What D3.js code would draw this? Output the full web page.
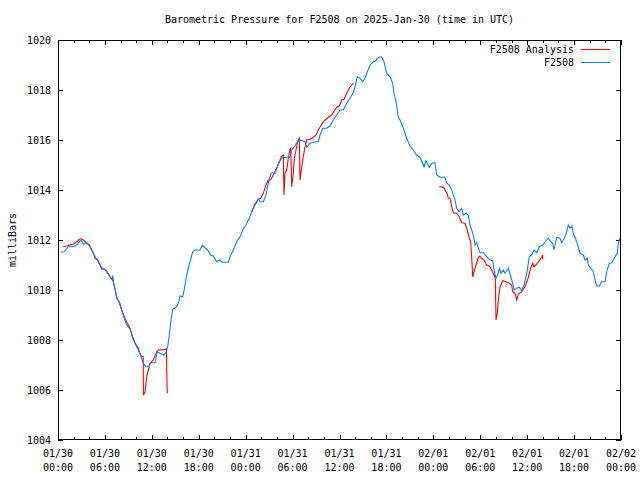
<!DOCTYPE html>
<html>
<head>
<meta charset="utf-8">
<script src="https://cdn.jsdelivr.net/npm/d3@7"></script>
<style>
  html, body { margin: 0; padding: 0; background: #fff; }
  svg text { font-family: "DejaVu Sans Mono", "Liberation Mono", monospace; font-size: 10px; fill: #000; }
</style>
</head>
<body>
<svg id="chart" width="640" height="480"></svg>
<script>
// ---- data (hours since 2025-01-30 00:00 UTC, pressure in milliBars) ----
const chartTitle = "Barometric Pressure for F2508 on 2025-Jan-30 (time in UTC)";
const yAxisLabel = "milliBars";
const seriesNames = ["F2508 Analysis", "F2508"];
const yTickValues = [1004, 1006, 1008, 1010, 1012, 1014, 1016, 1018, 1020];
const xTickHours = [0, 6, 12, 18, 24, 30, 36, 42, 48, 54, 60, 66, 72];

const stationHours = [0.35,0.77,1.32,1.96,2.39,2.94,3.24,3.67,4.09,4.51,5.15,5.59,6.01,6.43,6.87,7.0,7.16,7.51,7.93,8.27,8.70,8.99,9.21,9.55,9.85,10.27,10.70,10.91,11.25,11.55,11.89,12.41,12.70,13.04,13.47,13.81,14.03,14.23,14.45,14.67,15.09,15.39,15.60,15.95,16.15,16.46,16.88,17.23,17.52,18.16,18.45,18.80,19.22,19.53,19.86,20.30,20.63,21.01,21.78,22.0,22.42,22.85,23.28,23.62,24.04,24.46,24.77,25.10,25.62,25.83,26.26,26.60,26.89,27.24,27.46,27.75,27.97,28.30,28.61,29.03,29.67,29.89,30.31,30.60,30.95,31.59,31.81,32.23,32.87,33.29,33.51,33.85,34.36,34.79,35.21,35.64,36.06,36.49,36.92,37.34,37.76,37.98,38.28,38.62,38.97,39.26,39.56,39.90,40.32,40.67,40.83,41.18,41.40,41.69,42.04,42.46,42.80,42.97,43.23,43.52,43.74,44.16,44.59,45.02,45.44,45.87,46.30,46.64,46.81,47.06,47.48,47.79,48.21,48.43,48.85,49.49,49.71,50.04,50.35,50.55,50.77,50.99,51.32,51.63,51.83,52.18,52.47,52.69,52.91,53.11,53.33,53.54,53.75,53.97,54.39,54.83,55.25,55.59,55.76,56.01,56.23,56.44,56.65,56.95,57.17,57.59,57.90,58.15,58.32,58.66,59.0,59.30,59.60,59.85,60.02,60.27,60.58,60.87,61.22,61.55,61.99,62.41,62.70,62.92,63.27,63.44,63.78,64.20,64.42,64.75,65.06,65.26,65.48,65.70,65.90,66.25,66.54,66.76,67.18,67.40,67.69,67.82,68.13,68.46,68.68,68.90,69.23,69.53,69.96,70.17,70.50,70.81,71.02,71.23,71.53,71.66,71.87,72.0];
const stationPressure = [1011.51,1011.53,1011.73,1011.73,1011.8,1012.0,1011.84,1011.9,1011.73,1011.47,1011.13,1010.89,1010.8,1010.63,1010.43,1010.57,1010.2,1009.73,1009.4,1009.07,1008.67,1008.51,1008.47,1008.07,1007.87,1007.6,1007.27,1007.07,1006.93,1006.93,1007.09,1007.09,1007.53,1007.47,1007.4,1007.49,1007.73,1008.2,1008.8,1009.23,1009.31,1009.47,1009.76,1009.73,1010.03,1010.6,1011.13,1011.53,1011.6,1011.6,1011.79,1011.69,1011.57,1011.4,1011.36,1011.13,1011.2,1011.11,1011.11,1011.33,1011.6,1011.93,1012.13,1012.4,1012.6,1012.87,1013.11,1013.4,1013.65,1013.53,1013.53,1013.8,1014.27,1014.67,1014.69,1014.67,1014.87,1015.13,1015.27,1015.31,1015.31,1015.6,1015.76,1015.93,1016.0,1015.93,1015.71,1015.87,1015.93,1015.93,1016.2,1016.47,1016.47,1016.56,1016.8,1017.0,1017.2,1017.2,1017.47,1017.67,1017.89,1018.13,1018.53,1018.47,1018.33,1018.47,1018.73,1019.0,1019.13,1019.17,1019.27,1019.33,1019.31,1019.13,1018.67,1018.53,1018.27,1017.87,1017.53,1016.93,1016.8,1016.47,1016.07,1015.76,1015.6,1015.4,1015.31,1015.07,1014.93,1015.17,1014.91,1015.07,1015.09,1014.6,1014.51,1014.51,1014.27,1014.2,1014.0,1013.8,1013.6,1013.27,1013.13,1013.27,1013.0,1013.07,1013.0,1012.6,1012.4,1012.2,1011.8,1011.89,1011.67,1011.49,1011.49,1011.33,1011.2,1011.17,1010.8,1010.47,1010.6,1010.87,1010.67,1010.8,1010.67,1010.87,1010.53,1010.27,1010.0,1010.07,1010.11,1009.97,1010.2,1010.53,1010.8,1011.33,1011.4,1011.6,1011.49,1011.73,1011.8,1011.97,1012.07,1011.97,1011.87,1011.6,1012.11,1012.07,1011.89,1012.07,1012.33,1012.6,1012.47,1012.56,1012.27,1012.0,1011.73,1011.47,1011.4,1011.2,1011.27,1011.0,1010.87,1010.73,1010.4,1010.16,1010.16,1010.33,1010.33,1010.73,1011.07,1011.09,1011.2,1011.33,1011.47,1011.87,1012.07,1012.07];

// analysis series; null marks a gap in the record
const analysisHours = [0.68,1.11,1.53,1.96,2.39,2.72,3.03,3.36,3.67,4.0,4.44,4.73,5.03,5.37,5.59,6.01,6.43,6.74,7.0,7.29,7.51,7.84,8.15,8.57,8.86,9.12,9.55,9.85,10.27,10.61,10.90,10.92,11.13,11.34,11.55,11.77,12.19,12.62,12.83,13.26,13.81,13.87,13.91,13.97,
  19.0,
  24.77,25.19,25.62,25.92,26.26,26.60,26.89,27.20,27.53,27.97,28.30,28.61,28.81,28.90,29.03,29.25,29.45,29.67,29.76,29.89,30.09,30.22,30.44,30.60,30.73,30.86,30.95,31.17,31.37,31.59,31.81,32.23,32.65,33.0,33.29,33.60,33.93,34.27,34.57,35.0,35.34,35.64,35.97,36.28,36.58,36.92,37.25,37.56,37.76,
  43.0,
  48.76,49.07,49.37,49.62,49.79,49.91,50.13,50.35,50.55,50.99,51.32,51.63,52.05,52.27,52.60,52.78,52.91,53.04,53.21,53.46,53.75,53.97,54.18,54.48,54.83,55.16,55.46,55.76,55.93,56.01,56.18,56.31,56.53,56.87,57.29,57.71,58.02,58.15,58.45,58.66,58.87,59.30,59.72,60.12,60.43,60.69,60.85,61.20,61.55,61.85,61.98,61.99];
const analysisPressure = [1011.73,1011.76,1011.8,1011.84,1011.93,1012.03,1012.05,1011.97,1011.87,1011.8,1011.53,1011.27,1011.23,1011.0,1010.84,1010.83,1010.67,1010.47,1010.4,1010.07,1009.67,1009.53,1009.2,1008.87,1008.67,1008.53,1008.13,1007.89,1007.67,1007.36,1007.33,1005.8,1005.93,1006.53,1006.8,1007.07,1007.2,1007.53,1007.6,1007.6,1007.63,1007.67,1006.8,1005.87,
  null,
  1013.13,1013.4,1013.63,1013.67,1013.87,1014.2,1014.4,1014.4,1014.6,1014.87,1015.13,1015.36,1015.4,1013.8,1014.67,1014.8,1015.27,1015.63,1015.67,1014.13,1014.67,1015.27,1015.6,1015.87,1016.0,1016.07,1014.4,1014.93,1015.33,1015.73,1016.0,1016.03,1016.11,1016.2,1016.4,1016.56,1016.73,1016.83,1016.91,1017.0,1017.17,1017.31,1017.36,1017.6,1017.63,1017.87,1018.07,1018.2,1018.27,
  null,
  1014.13,1014.13,1014.07,1013.93,1013.84,1013.67,1013.67,1013.33,1013.09,1013.07,1012.93,1012.69,1012.67,1012.47,1012.07,1011.93,1011.27,1010.53,1010.73,1011.0,1011.31,1011.36,1011.27,1011.2,1011.0,1010.96,1010.8,1010.6,1010.47,1008.8,1009.07,1009.6,1010.13,1010.37,1010.33,1010.27,1010.2,1009.93,1009.87,1009.6,1009.84,1009.93,1010.13,1010.47,1010.87,1011.07,1010.93,1011.03,1011.17,1011.31,1011.4,1011.23];

const colorAnalysis = "#ff0000";
const colorStation = "#0a84f5";

// ---- drawing ----
const baseMs = Date.UTC(2025, 0, 30, 0, 0);
const toDate = h => new Date(baseMs + h * 3600e3);

const margin = { left: 58, right: 19, top: 40, bottom: 40 };
const W = 640, H = 480;
const svg = d3.select("#chart");

const x = d3.scaleUtc().domain([toDate(0), toDate(72)]).range([margin.left, W - margin.right]);
const y = d3.scaleLinear().domain([1004, 1020]).range([H - margin.bottom, margin.top]);

const x0 = x.range()[0], x1 = x.range()[1], y0 = y.range()[0], y1 = y.range()[1];

const minorHours = d3.range(0, 73, 2).filter(h => h % 6 !== 0);

// tick marks (inward, mirrored on all four sides)
const tickG = svg.append("g").attr("stroke", "#000").attr("stroke-width", 1).attr("shape-rendering", "crispEdges");
xTickHours.forEach(h => {
  const px = Math.round(x(toDate(h))) + 0.5;
  tickG.append("line").attr("x1", px).attr("x2", px).attr("y1", y0).attr("y2", y0 - 5);
  tickG.append("line").attr("x1", px).attr("x2", px).attr("y1", y1).attr("y2", y1 + 5);
});
minorHours.forEach(h => {
  const px = Math.round(x(toDate(h))) + 0.5;
  tickG.append("line").attr("x1", px).attr("x2", px).attr("y1", y0).attr("y2", y0 - 3);
  tickG.append("line").attr("x1", px).attr("x2", px).attr("y1", y1).attr("y2", y1 + 3);
});
yTickValues.forEach(v => {
  const py = Math.round(y(v)) + 0.5;
  tickG.append("line").attr("x1", x0).attr("x2", x0 + 5).attr("y1", py).attr("y2", py);
  tickG.append("line").attr("x1", x1).attr("x2", x1 - 5).attr("y1", py).attr("y2", py);
});

// y tick labels
svg.append("g").selectAll("text").data(yTickValues).join("text")
  .attr("x", x0 - 7).attr("y", d => y(d)).attr("dy", "0.35em")
  .attr("text-anchor", "end").text(d => d);

// x tick labels (two lines)
const fmtDay = d3.utcFormat("%m/%d"), fmtTime = d3.utcFormat("%H:%M");
const xl = svg.append("g").selectAll("g").data(xTickHours).join("g")
  .attr("transform", h => `translate(${x(toDate(h))},0)`);
xl.append("text").attr("y", y0 + 17).attr("text-anchor", "middle").text(h => fmtDay(toDate(h)));
xl.append("text").attr("y", y0 + 31).attr("text-anchor", "middle").text(h => fmtTime(toDate(h)));

// title & y label
svg.append("text").attr("x", (x0 + x1) / 2).attr("y", 23).attr("text-anchor", "middle").text(chartTitle);
svg.append("text").attr("transform", `translate(16,${(y0 + y1) / 2}) rotate(-90)`)
  .attr("text-anchor", "middle").text(yAxisLabel);

// series
const stationData = stationHours.map((h, i) => ({ t: toDate(h), v: stationPressure[i] }));
const analysisData = analysisHours.map((h, i) => ({ t: toDate(h), v: analysisPressure[i] }));
const line = d3.line().defined(d => d.v !== null).x(d => x(d.t)).y(d => y(d.v));

svg.append("path").datum(analysisData).attr("d", line)
  .attr("fill", "none").attr("stroke", colorAnalysis).attr("stroke-width", 1.1);
svg.append("path").datum(stationData).attr("d", line)
  .attr("fill", "none").attr("stroke", colorStation).attr("stroke-width", 1.1);

// frame
svg.append("rect").attr("x", x0 + 0.5).attr("y", y1 + 0.5)
  .attr("width", x1 - x0 - 1).attr("height", y0 - y1 - 1)
  .attr("fill", "none").attr("stroke", "#000").attr("shape-rendering", "crispEdges");

// legend
const legend = svg.append("g");
const legColors = [colorAnalysis, colorStation];
seriesNames.forEach((name, i) => {
  const ly = 49 + i * 13;
  legend.append("text").attr("x", 574).attr("y", ly).attr("dy", "0.35em").attr("text-anchor", "end").text(name);
  legend.append("line").attr("x1", 581).attr("x2", 610).attr("y1", ly + 0.5).attr("y2", ly + 0.5)
    .attr("stroke", legColors[i]).attr("stroke-width", 1).attr("shape-rendering", "crispEdges");
});
</script>
</body>
</html>
